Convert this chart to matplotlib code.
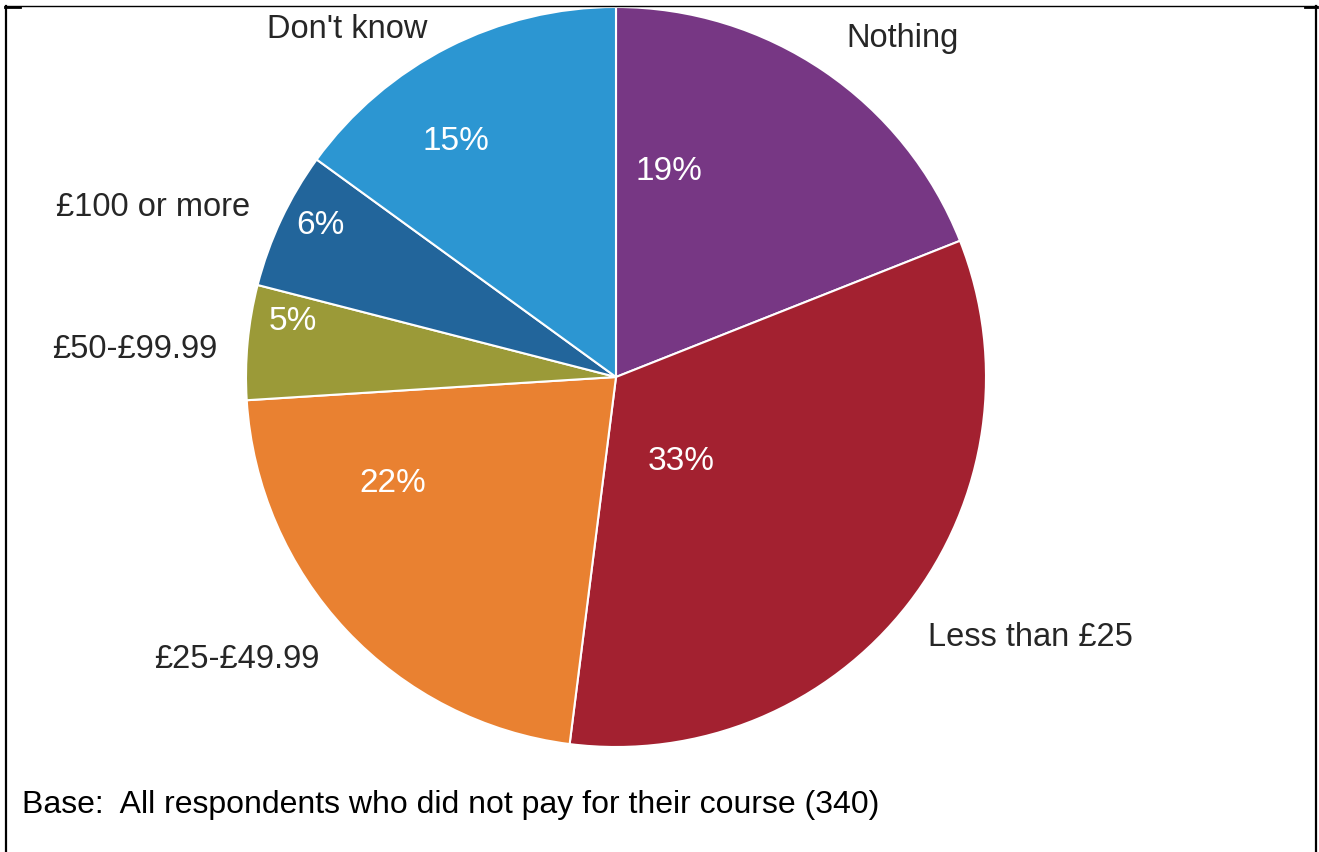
import matplotlib
matplotlib.use("Agg")
import matplotlib.pyplot as plt
from matplotlib.lines import Line2D

# Survey data: amount spent by respondents who did not pay for their course
categories = ["Nothing", "Less than £25", "£25-£49.99", "£50-£99.99",
              "£100 or more", "Don't know"]
shares = [19, 33, 22, 5, 6, 15]
colors = ["#773784", "#A32130", "#E98131", "#9B9A38", "#22659B", "#2C96D2"]
base_note = "Base:  All respondents who did not pay for their course (340)"

W, H = 1319, 852
CX, CY, R = 616, 377, 370  # pie centre and radius in pixels

plt.rcParams["font.family"] = ["Liberation Sans", "DejaVu Sans"]

fig = plt.figure(figsize=(W / 100, H / 100), dpi=100)
ax = fig.add_axes([0, 0, 1, 1])

wedges, texts, autotexts = ax.pie(
    shares,
    labels=categories,
    colors=colors,
    startangle=90,
    counterclock=False,
    autopct=lambda p: f"{p:.0f}%",
    radius=1.0,
    wedgeprops=dict(edgecolor="white", linewidth=1.5),
    textprops=dict(fontsize=23.5, color="#262626"),
)

# pixel -> data units
def px(x, y):
    return ((x - CX) / R, (CY - y) / R)

# label placements (pixels)
label_pos = [(903, 38), (1030, 638), (237, 660), (135, 350), (153, 207), (347, 30)]
pct_pos = [(669, 172), (681, 462), (393, 483), (293, 322), (320, 226), (456, 142)]

for t, p in zip(texts, label_pos):
    t.set_position(px(*p))
    t.set_ha("center")
    t.set_va("center")
    t.set_fontsize(23.5)
for t, p in zip(autotexts, pct_pos):
    t.set_position(px(*p))
    t.set_ha("center")
    t.set_va("center")
    t.set_color("white")
    t.set_fontsize(24)

ax.set_xlim(-CX / R, (W - CX) / R)
ax.set_ylim(-(H - CY) / R, CY / R)
ax.set_aspect("auto")
ax.axis("off")

fig.text(22 / W, 1 - 805 / H, base_note, fontsize=23, color="black",
         ha="left", va="center")

# frame around the chart
def fl(x0, y0, x1, y1, lw):
    fig.add_artist(Line2D([x0 / W, x1 / W], [1 - y0 / H, 1 - y1 / H],
                          color="black", linewidth=lw, transform=fig.transFigure))

fl(5, 6, 1317, 6, 1.0)
fl(6, 6, 6, H, 1.6)
fl(1316, 6, 1316, H, 1.6)
fl(5, 6.5, 20, 6.5, 2.0)
fl(1305, 6.5, 1317, 6.5, 2.0)

fig.savefig("out.png", dpi=100, facecolor="white")
